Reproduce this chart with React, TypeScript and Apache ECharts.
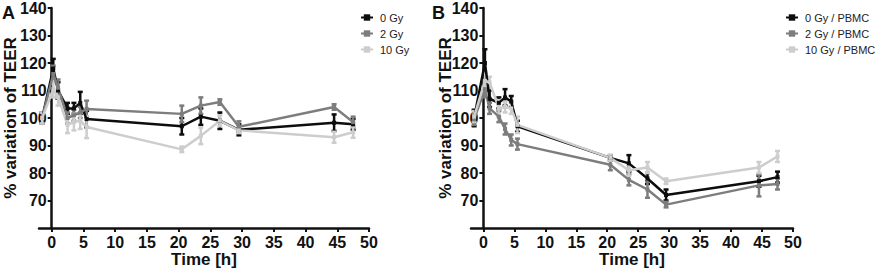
import React, { useEffect, useRef } from "react";
import * as echarts from "echarts";

// Time points (h)
const TIMES = [-1.5, 0.25, 1, 2.5, 3.5, 4.5, 5.5, 20.5, 23.5, 26.5, 29.5, 44.5, 47.5];

// Panel A: % variation of TEER (mean)
const A_0GY = [100, 118, 110, 103.5, 103.5, 105.5, 99.6, 97, 100.5, 99, 95.7, 98.3, 97.7];
const A_2GY = [100, 116, 111, 100, 101, 102, 103.3, 101.5, 104.5, 105.8, 96.8, 104, 98.5];
const A_10GY = [100, 110.5, 107.5, 97.5, 98.5, 99, 96.7, 88.6, 93.5, 99, 95.5, 93, 94.8];
// Panel A: error (SEM)
const A_0GY_ERR = [2, 3.5, 3, 2, 2, 4, 3, 3, 3, 3, 2, 3, 2];
const A_2GY_ERR = [2, 3, 3, 2, 2, 2, 3, 3, 3, 1, 2, 1, 2];
const A_10GY_ERR = [2, 3, 3, 3, 3, 3, 4, 1, 3, 2, 1, 2, 2];

// Panel B: % variation of TEER (mean)
const B_0GY = [100, 120, 107, 105.5, 107.5, 106, 97, 85.5, 83.5, 78, 72, 77, 78.5];
const B_2GY = [99.5, 110.5, 103.5, 100.5, 96, 92, 90.5, 83, 77.5, 74, 68.5, 75.5, 76];
const B_10GY = [100.5, 113.5, 113, 103.5, 104, 103.5, 97.5, 85.5, 81, 82, 77, 82, 86];
// Panel B: error (SEM)
const B_0GY_ERR = [3, 5, 3, 2, 3, 2, 2, 1, 3, 2, 2, 2, 2];
const B_2GY_ERR = [2, 3, 2, 2, 2, 2, 2, 2, 2, 3, 1, 4, 2];
const B_10GY_ERR = [2, 3, 2, 3, 2, 2, 3, 1, 2, 2, 1, 2, 2];

const X_TICKS = [0, 5, 10, 15, 20, 25, 30, 35, 40, 45, 50];
const Y_TICKS = [70, 80, 90, 100, 110, 120, 130, 140];
const X_MIN = -2;
const X_MAX = 50;

const NAMES_A = ["0 Gy", "2 Gy", "10 Gy"];
const NAMES_B = ["0 Gy / PBMC", "2 Gy / PBMC", "10 Gy / PBMC"];
const COLORS = ["#0d0d0d", "#7d7d7d", "#cdcdcd"];

const FONT = '"Liberation Sans", Arial, sans-serif';

const GRIDS = [
  { left: 39, top: 8, width: 330, height: 220 },
  { left: 471, top: 8, width: 322, height: 220 },
];

function pairs(vals: number[]) {
  return TIMES.map((t, i) => [t, vals[i]]);
}
function errs(vals: number[], e: number[]) {
  return TIMES.map((t, i) => [t, vals[i] - e[i], vals[i] + e[i]]);
}

function errSeries(data: number[][], color: string, gi: number) {
  return {
    type: "custom",
    xAxisIndex: gi,
    yAxisIndex: gi,
    data,
    z: 3,
    silent: true,
    encode: { x: 0, y: [1, 2] },
    renderItem: (params: any, api: any) => {
      const x = api.value(0);
      const p1 = api.coord([x, api.value(1)]);
      const p2 = api.coord([x, api.value(2)]);
      const w = 2.5;
      const st = { stroke: color, lineWidth: 2.5 };
      return {
        type: "group",
        children: [
          { type: "line", shape: { x1: p1[0], y1: p1[1], x2: p2[0], y2: p2[1] }, style: st },
          { type: "line", shape: { x1: p1[0] - w, y1: p1[1], x2: p1[0] + w, y2: p1[1] }, style: st },
          { type: "line", shape: { x1: p2[0] - w, y1: p2[1], x2: p2[0] + w, y2: p2[1] }, style: st },
        ],
      };
    },
  };
}

function lineSeries(name: string, data: number[][], color: string, gi: number) {
  return {
    type: "line",
    name,
    xAxisIndex: gi,
    yAxisIndex: gi,
    data,
    z: 4,
    symbol: "rect",
    symbolSize: 4,
    lineStyle: { color, width: 2.5 },
    itemStyle: { color },
  };
}

function xAxis(gi: number) {
  return {
    type: "value",
    gridIndex: gi,
    min: X_MIN,
    max: X_MAX,
    name: "Time [h]",
    nameLocation: "middle",
    nameGap: 23,
    nameMoveOverlap: false,
    nameTextStyle: { fontFamily: FONT, fontWeight: "bold", fontSize: 17, color: "#111" },
    splitLine: { show: false },
    axisLine: { onZero: false, lineStyle: { color: "#111", width: 2.5 } },
    axisTick: { show: true, length: 4, lineStyle: { color: "#111", width: 2 }, customValues: X_TICKS },
    axisLabel: {
      customValues: X_TICKS,
      margin: 6,
      fontFamily: FONT,
      fontWeight: "bold",
      fontSize: 16,
      color: "#111",
    },
  };
}

function yAxis(gi: number, gap: number) {
  // shift the y axis so it crosses the x axis at x = 0
  const g = GRIDS[gi];
  const offset = -((0 - X_MIN) / (X_MAX - X_MIN)) * g.width;
  return {
    type: "value",
    gridIndex: gi,
    min: 60,
    max: 140,
    offset,
    name: "% variation of TEER",
    nameLocation: "middle",
    nameGap: gap,
    nameMoveOverlap: false,
    nameTextStyle: { fontFamily: FONT, fontWeight: "bold", fontSize: 17, color: "#111" },
    splitLine: { show: false },
    axisLine: { onZero: false, lineStyle: { color: "#111", width: 2.5 } },
    axisTick: { show: true, length: 4, lineStyle: { color: "#111", width: 2 }, customValues: Y_TICKS },
    axisLabel: {
      customValues: Y_TICKS,
      margin: 5,
      fontFamily: FONT,
      fontWeight: "bold",
      fontSize: 16,
      color: "#111",
    },
  };
}

function legend(names: string[], left: number, top: number) {
  return {
    data: names,
    orient: "vertical",
    left,
    top,
    itemWidth: 12,
    itemHeight: 8,
    itemGap: 5,
    textStyle: { fontFamily: FONT, fontSize: 11, color: "#222", padding: [0, 0, 0, 2] },
    selectedMode: false,
  };
}

export default function App() {
  const ref = useRef<HTMLDivElement>(null);
  useEffect(() => {
    if (!ref.current) return;
    const chart = echarts.init(ref.current, null, { renderer: "svg" });
    const aVals = [A_0GY, A_2GY, A_10GY];
    const aErr = [A_0GY_ERR, A_2GY_ERR, A_10GY_ERR];
    const bVals = [B_0GY, B_2GY, B_10GY];
    const bErr = [B_0GY_ERR, B_2GY_ERR, B_10GY_ERR];
    const series: any[] = [];
    for (let i = 0; i < 3; i++) {
      series.push(errSeries(errs(aVals[i], aErr[i]), COLORS[i], 0));
      series.push(lineSeries(NAMES_A[i], pairs(aVals[i]), COLORS[i], 0));
    }
    for (let i = 0; i < 3; i++) {
      series.push(errSeries(errs(bVals[i], bErr[i]), COLORS[i], 1));
      series.push(lineSeries(NAMES_B[i], pairs(bVals[i]), COLORS[i], 1));
    }
    chart.setOption({
      animation: false,
      backgroundColor: "#ffffff",
      grid: GRIDS.map((g) => ({ ...g, containLabel: false, outerBoundsMode: "none" })),
      xAxis: [xAxis(0), xAxis(1)],
      yAxis: [yAxis(0, 33), yAxis(1, 29)],
      legend: [legend(NAMES_A, 355, 7), legend(NAMES_B, 780, 7)],
      graphic: [
        { type: "text", left: 2, top: 4, style: { text: "A", font: `bold 18px ${FONT}`, fill: "#111" } },
        { type: "text", left: 432, top: 4, style: { text: "B", font: `bold 18px ${FONT}`, fill: "#111" } },
      ],
      series,
    });
    return () => chart.dispose();
  }, []);
  return (
    <div
      ref={ref}
      style={{ position: "fixed", left: 0, top: 0, width: 880, height: 272, background: "#fff" }}
    />
  );
}
